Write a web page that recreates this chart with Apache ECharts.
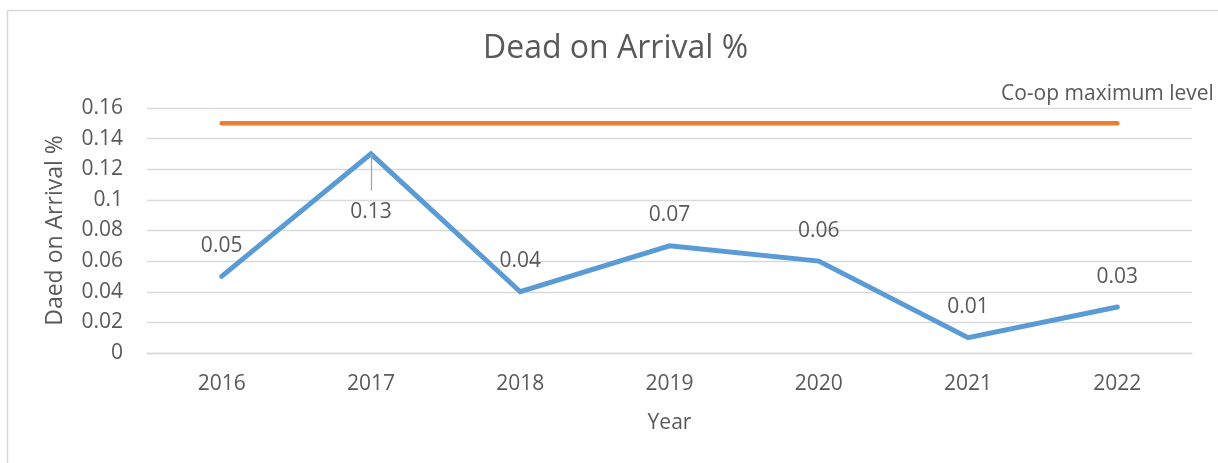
<!DOCTYPE html>
<html>
<head>
<meta charset="utf-8">
<script src="https://cdn.jsdelivr.net/npm/echarts@6/dist/echarts.min.js"></script>
<style>
html, body { margin: 0; padding: 0; background: #fff; }
#main { width: 1218px; height: 463px; }
</style>
</head>
<body>
<div id="main"></div>
<script>
// chart data
const years = ['2016', '2017', '2018', '2019', '2020', '2021', '2022']
const doaValues = [0.05, 0.13, 0.04, 0.07, 0.06, 0.01, 0.03]
const coopMax = [0.15, 0.15, 0.15, 0.15, 0.15, 0.15, 0.15]
const yTicks = { min: 0, max: 0.16, interval: 0.02 }
// end of the 0.13 leader line (value units)
const leaderEnd = 0.106

const textColor = '#595959'
const font = '"Open Sans", "Liberation Sans", sans-serif'

let myChart = echarts.init(document.getElementById('main'))

myChart.setOption({
  animation: false,
  backgroundColor: '#fff',
  textStyle: { fontFamily: font },
  title: {
    text: 'Dead on Arrival %',
    left: 478,
    top: 28,
    textStyle: { color: textColor, fontSize: 32, fontWeight: 'normal', fontFamily: font }
  },
  legend: {
    data: ['Co-op maximum level'],
    left: 991,
    top: 79,
    icon: 'none',
    itemWidth: 0,
    itemGap: 0,
    textStyle: { color: textColor, fontSize: 21, fontFamily: font }
  },
  graphic: [
    {
      type: 'rect',
      shape: { x: 7.5, y: 10.5, width: 1230, height: 480 },
      style: { fill: 'none', stroke: '#d9d9d9', lineWidth: 1.5 },
      silent: true,
      z: -10
    }
  ],
  grid: { left: 147, right: 26, top: 108, bottom: 110 },
  xAxis: {
    type: 'category',
    data: years,
    boundaryGap: true,
    name: 'Year',
    nameLocation: 'middle',
    nameGap: 60,
    nameTextStyle: { color: textColor, fontSize: 21, fontFamily: font },
    axisLine: { show: true, lineStyle: { color: '#d9d9d9', width: 1.3 } },
    axisTick: { show: false },
    axisLabel: { color: textColor, fontSize: 21, margin: 21, fontFamily: font }
  },
  yAxis: {
    type: 'value',
    min: yTicks.min,
    max: yTicks.max,
    interval: yTicks.interval,
    name: 'Daed on Arrival %',
    nameLocation: 'middle',
    nameGap: 80,
    nameTextStyle: { color: textColor, fontSize: 23, fontFamily: font },
    axisLine: { show: false },
    axisTick: { show: false },
    axisLabel: { color: textColor, fontSize: 21, margin: 24, fontFamily: font },
    splitLine: { lineStyle: { color: '#d9d9d9', width: 1.3 } }
  },
  series: [
    {
      name: 'Daed on Arrival %',
      type: 'line',
      data: doaValues.map(function (v, i) {
        if (i === 1) {
          return { value: v, label: { position: 'bottom', distance: 48 } }
        }
        return v
      }),
      symbol: 'circle',
      symbolSize: 0,
      showSymbol: true,
      lineStyle: { color: '#5b9bd5', width: 5, join: 'miter', cap: 'round' },
      itemStyle: { color: '#5b9bd5' },
      label: {
        show: true,
        position: 'top',
        distance: 20,
        color: textColor,
        fontSize: 21,
        fontFamily: font
      },
      markLine: {
        silent: true,
        symbol: 'none',
        label: { show: false },
        lineStyle: { color: '#a6a6a6', width: 1.3, type: 'solid' },
        data: [
          [
            { coord: [1, doaValues[1]] },
            { coord: [1, leaderEnd] }
          ]
        ]
      },
      z: 3
    },
    {
      name: 'Co-op maximum level',
      type: 'line',
      data: coopMax,
      symbol: 'none',
      showSymbol: false,
      lineStyle: { color: '#ed7d31', width: 4.5, cap: 'round' },
      itemStyle: { color: '#ed7d31' },
      z: 2
    }
  ]
})
</script>
</body>
</html>
